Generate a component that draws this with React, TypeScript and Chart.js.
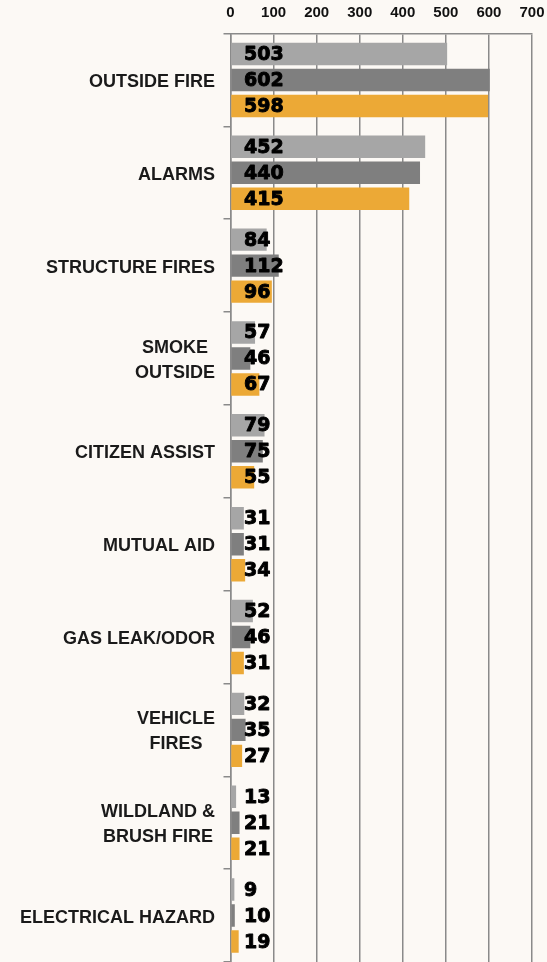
import React, { useEffect, useRef } from "react";
import { Chart, registerables } from "chart.js";

Chart.register(...registerables);

const categories: string[][] = [
  ["OUTSIDE FIRE"],
  ["ALARMS"],
  ["STRUCTURE FIRES"],
  ["SMOKE", "OUTSIDE"],
  ["CITIZEN ASSIST"],
  ["MUTUAL AID"],
  ["GAS LEAK/ODOR"],
  ["VEHICLE", "FIRES"],
  ["WILDLAND &", "BRUSH FIRE"],
  ["ELECTRICAL HAZARD"],
];

const seriesNames = ["Period 1", "Period 2", "Period 3"];
const series1 = [503, 452, 84, 57, 79, 31, 52, 32, 13, 9];
const series2 = [602, 440, 112, 46, 75, 31, 46, 35, 21, 10];
const series3 = [598, 415, 96, 67, 55, 34, 31, 27, 21, 19];
const seriesColors = ["#a6a6a6", "#7f7f7f", "#eca936"];

const axisMin = 0;
const axisMax = 700;
const axisStep = 100;

const BG = "#fcf9f5";
const GRID = "#8a8a8a";

export default function App() {
  const ref = useRef<HTMLCanvasElement | null>(null);

  useEffect(() => {
    if (!ref.current) return;

    const bgPlugin = {
      id: "bg",
      beforeDraw(chart: any) {
        const ctx = chart.ctx;
        ctx.save();
        ctx.fillStyle = BG;
        ctx.fillRect(0, 0, chart.width, chart.height);
        ctx.restore();
      },
    };

    const labelsPlugin = {
      id: "customLabels",
      afterDraw(chart: any) {
        const ctx = chart.ctx;
        const xs = chart.scales.x;
        const ys = chart.scales.y;
        ctx.save();
        // category labels
        ctx.fillStyle = "#1a1a1a";
        ctx.font = "bold 18px 'Liberation Sans', Arial, sans-serif";
        ctx.textBaseline = "middle";
        ctx.textAlign = "center";
        const lh = 25;
        categories.forEach((lines, i) => {
          const y = ys.getPixelForValue(i);
          const maxW = Math.max(...lines.map((l) => ctx.measureText(l).width));
          const cx = 215 - maxW / 2;
          lines.forEach((l, j) => {
            ctx.fillText(l, cx, y + (j - (lines.length - 1) / 2) * lh + 2);
          });
        });
        // data labels
        ctx.fillStyle = "#000";
        ctx.strokeStyle = "#000";
        ctx.lineWidth = 0.9;
        ctx.lineJoin = "round";
        ctx.font = "bold 19px 'DejaVu Sans', sans-serif";
        ctx.textAlign = "left";
        const x0 = xs.getPixelForValue(0) + 13.5;
        chart.data.datasets.forEach((ds: any, di: number) => {
          const meta = chart.getDatasetMeta(di);
          meta.data.forEach((el: any, i: number) => {
            const t = String(ds.data[i]);
            ctx.fillText(t, x0, el.y + 1);
            ctx.strokeText(t, x0, el.y + 1);
          });
        });
        ctx.restore();
      },
    };

    const chart = new Chart(ref.current, {
      type: "bar",
      data: {
        labels: categories.map((c) => c.join(" ")),
        datasets: [series1, series2, series3].map((d, i) => ({
          label: seriesNames[i],
          data: d,
          backgroundColor: seriesColors[i],
          borderWidth: 0,
          categoryPercentage: 0.84,
          barPercentage: 0.865,
        })),
      },
      options: {
        indexAxis: "y",
        animation: false,
        responsive: false,
        maintainAspectRatio: false,
        devicePixelRatio: 1,
        layout: { padding: { top: 0, right: 15, bottom: 0, left: 0 } },
        plugins: {
          legend: { display: false },
          tooltip: { enabled: false },
        },
        scales: {
          x: {
            position: "top",
            min: axisMin,
            max: axisMax,
            ticks: {
              stepSize: axisStep,
              color: "#111",
              font: { family: "'Liberation Sans', Arial, sans-serif", size: 15, weight: "bold" },
              padding: 12,
            },
            grid: { color: GRID, lineWidth: 1.5, drawTicks: false },
            border: { color: GRID, width: 1.5 },
            afterFit: (s: any) => {
              s.height = 33.5;
              s.paddingLeft = 0;
              s.paddingRight = 0;
            },
          },
          y: {
            ticks: { display: false },
            grid: {
              drawOnChartArea: false,
              drawTicks: true,
              tickLength: 7,
              color: GRID,
              lineWidth: 1.5,
            },
            border: { color: GRID, width: 1.5 },
            afterFit: (s: any) => {
              s.width = 230.5;
              s.paddingTop = 0;
              s.paddingBottom = 0;
            },
          },
        },
      },
      plugins: [bgPlugin, labelsPlugin],
    } as any);

    return () => chart.destroy();
  }, []);

  return (
    <div
      style={{
        position: "fixed",
        left: 0,
        top: 0,
        width: 547,
        height: 962,
        background: BG,
        overflow: "hidden",
      }}
    >
      <canvas ref={ref} width={547} height={962} style={{ display: "block", width: 547, height: 962 }} />
    </div>
  );
}
